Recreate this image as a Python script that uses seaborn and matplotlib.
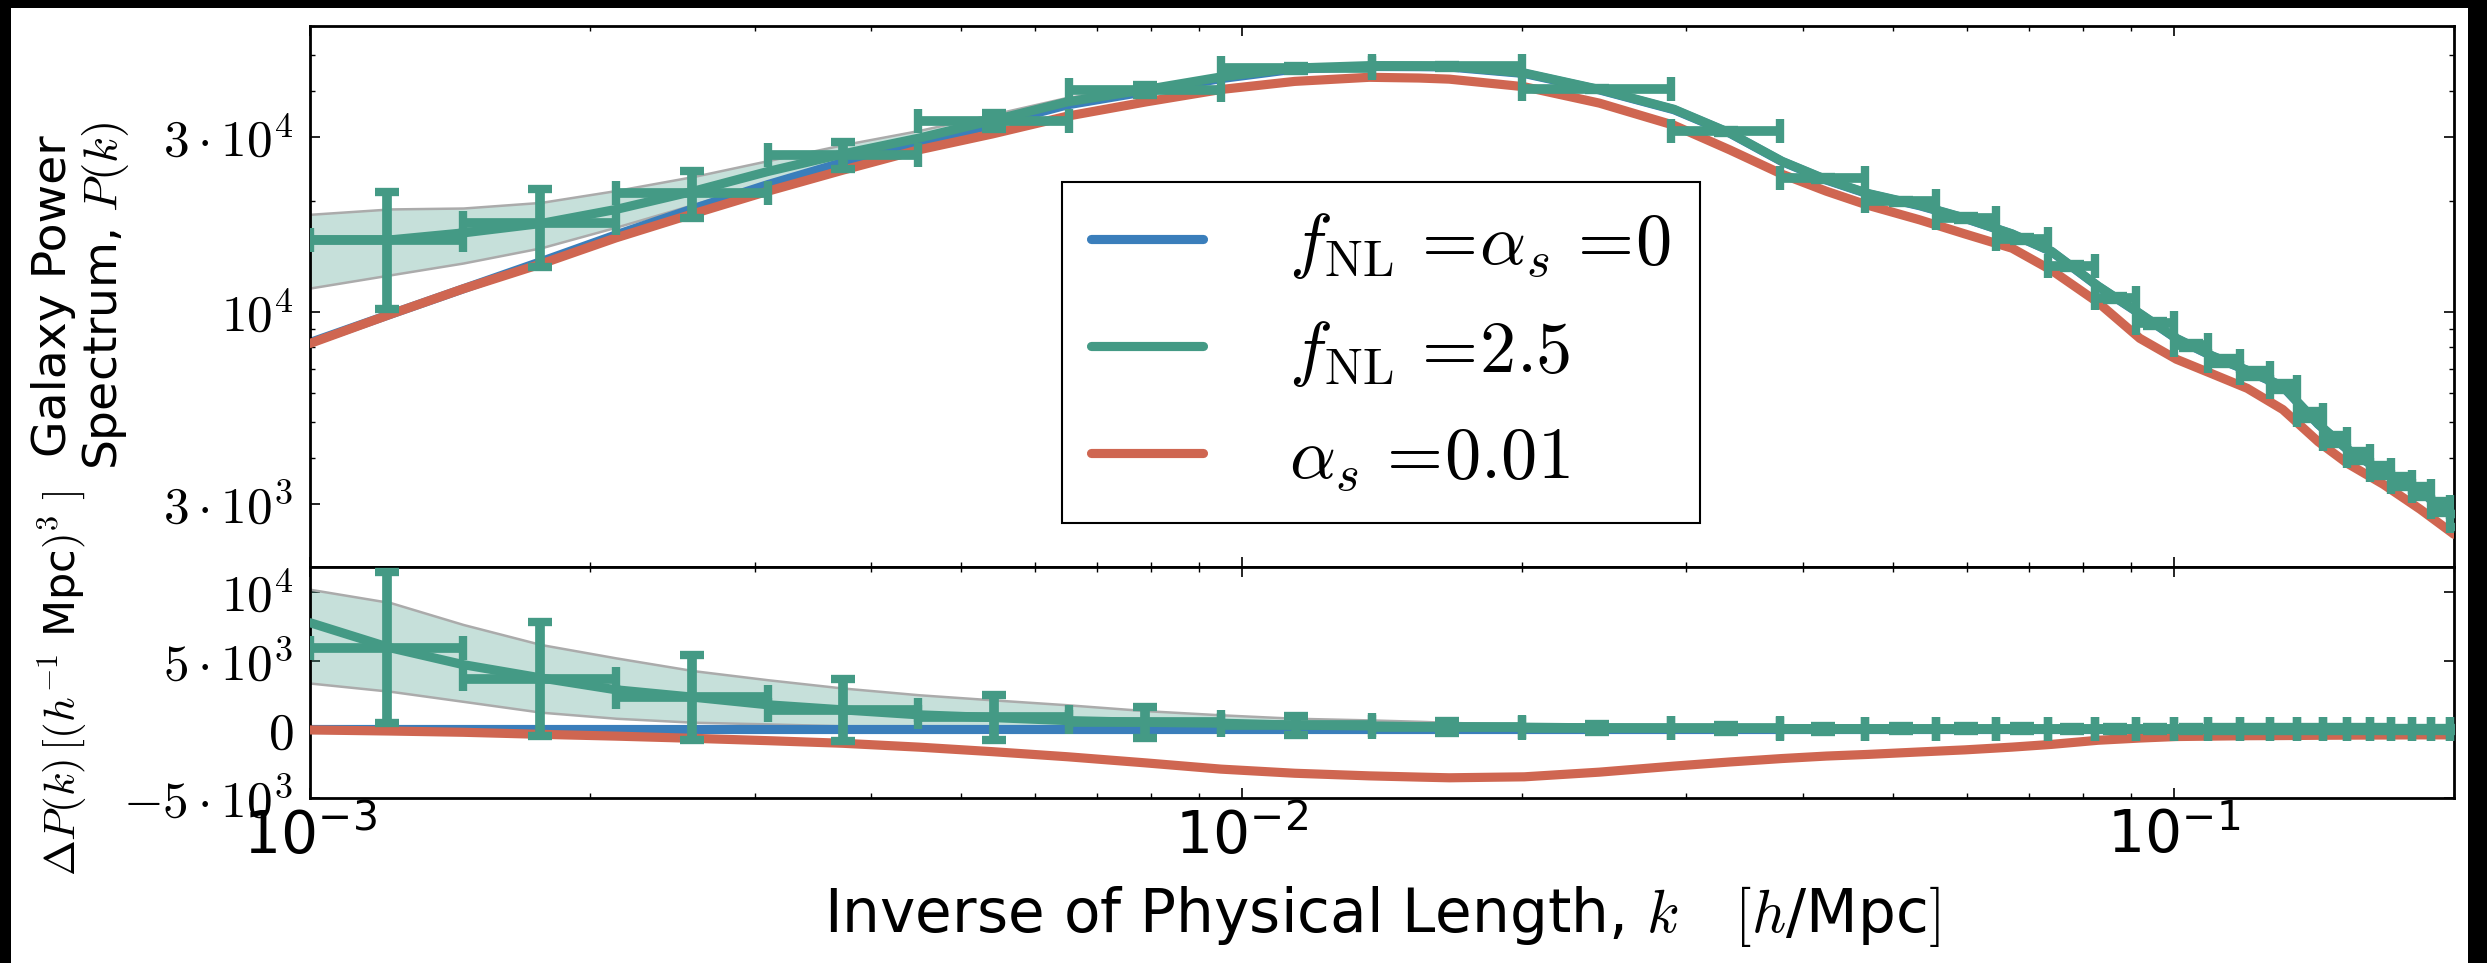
import numpy as np
import matplotlib
matplotlib.use("Agg")
import matplotlib.pyplot as plt
import seaborn as sns
from matplotlib.colors import to_rgba
from matplotlib.lines import Line2D
from matplotlib.patches import Rectangle
from matplotlib.ticker import LogLocator, NullFormatter

# wavenumber grid of the model curves [h/Mpc]
k_model = [0.001, 0.00122, 0.00146, 0.00177, 0.00213, 0.00258, 0.0031, 0.00373,
           0.0045, 0.0054, 0.0065, 0.0079, 0.0095, 0.0114, 0.0137, 0.0155, 0.0167,
           0.0201, 0.0242, 0.0291, 0.0334, 0.038, 0.0424, 0.047, 0.0534, 0.0597,
           0.0671, 0.074, 0.083, 0.092, 0.1007, 0.110, 0.120, 0.131, 0.143, 0.1536,
           0.168, 0.184, 0.2]

# galaxy power spectrum P(k), top panel
p_base = [8250, 9850, 11550, 13700, 16200, 19100, 22200, 25500, 28650, 32350,
          36600, 39800, 43150, 45800, 46550, 46500, 46400, 44550, 40200, 35500,
          30650, 25650, 22850, 20950, 19450, 17970, 16280, 14580, 11730, 9880,
          8455, 7578, 6920, 6260, 4942, 4224, 3655, 3246, 2766]
p_fnl = [15700, 15700, 16400, 17400, 19000, 21300, 24100, 26900, 29700, 33200,
         37300, 40300, 43600, 46100, 46800, 46700, 46600, 44700, 40300, 35600,
         30700, 25700, 22900, 21000, 19500, 18000, 16300, 14600, 11750, 9900,
         8470, 7590, 6930, 6270, 4950, 4230, 3660, 3250, 2770]
p_alpha = [8200, 9850, 11550, 13500, 15900, 18500, 21300, 24300, 27600, 30500,
           34100, 37300, 40300, 42400, 43500, 43300, 43000, 41000, 37000, 32200,
           27600, 23700, 21300, 19500, 17800, 16300, 14900, 12970, 10600, 8470,
           7430, 6780, 6190, 5420, 4430, 3870, 3390, 2900, 2480]

# difference to the baseline, bottom panel
dp_base = [0] * len(k_model)
dp_fnl = [7750, 5920, 4700, 3730, 2870, 2330, 1780, 1410, 1050, 850, 630, 500,
          440, 300, 240, 190, 160, 150, 100, 70, 60, 50, 45, 40, 35, 30, 28, 25,
          22, 20, 18, 16, 15, 14, 13, 12, 11, 10, 10]
dp_alpha = [-50, -130, -220, -370, -500, -660, -830, -1020, -1300, -1630, -2000,
            -2450, -2900, -3200, -3390, -3480, -3530, -3460, -3120, -2680, -2380,
            -2130, -1950, -1830, -1650, -1500, -1300, -1100, -800, -640, -530,
            -500, -470, -460, -440, -430, -420, -410, -410]

# shaded f_NL uncertainty band (as Delta P), first part of the grid
band_hi = [10180, 9210, 7620, 6160, 5190, 4260, 3600, 3000, 2510, 2140, 1780,
           1350, 1050, 800, 680, 580, 500, 350]
band_lo = [3360, 2760, 2030, 1240, 800, 510, 390, 250, 190, 150, 120, 100, 90,
           80, 70, 60, 60, 50]

# binned mock measurements
k_edges = [0.00100, 0.00146, 0.00213, 0.00310, 0.00449, 0.00653, 0.00950, 0.01378,
           0.0200, 0.0289, 0.0378, 0.0467, 0.0556, 0.0645, 0.0734, 0.0823, 0.0912,
           0.1001, 0.1090, 0.1179, 0.1268, 0.1357, 0.1446, 0.1535, 0.1624, 0.1713,
           0.1802, 0.1891, 0.1980, 0.2069]
p_points = [15700, 17400, 21100, 26800, 33100, 40200, 46000, 46600, 40500, 31000,
            23100, 20000, 18000, 15800, 13300, 10900, 9300, 8100, 7350, 6800, 6250,
            5250, 4500, 4050, 3700, 3450, 3250, 2950, 2700]
dp_points = [5920, 3680, 2330, 1420, 860, 500, 300, 170, 100, 60, 45, 35, 30, 28,
             25, 22, 20, 18, 16, 15, 14, 13, 12, 11, 10, 10, 10, 10, 10]
p_err = [5500, 4150, 3100, 2250, 1620, 1150, 700, 420, 300, 240, 210, 195, 185,
         175, 165, 160, 155, 150, 145, 140, 135, 130, 125, 120, 118, 115, 112, 110, 108]

labels = [r"$f_{\rm NL}\,=\!\alpha_s\,=\!0$", r"$f_{\rm NL}\,=\!2.5$",
          r"$\alpha_s\,=\!0.01$"]

BLUE = "#3a7ebb"
GREEN = "#449a85"
RED = "#cf6651"
GREY = "#ababab"
LW = 6.6

sns.set_style("ticks")
plt.rcParams["font.family"] = ["DejaVu Sans"]
plt.rcParams["mathtext.fontset"] = "cm"
plt.rcParams["axes.linewidth"] = 2.0
for key in ("text.color", "axes.labelcolor", "xtick.color", "ytick.color", "axes.edgecolor"):
    plt.rcParams[key] = "black"

W, H = 2487, 963
fig = plt.figure(figsize=(W / 100, H / 100), dpi=100, facecolor="black")
fig.patches.append(Rectangle((11 / W, 0), (2468 - 11) / W, (H - 8) / H,
                             transform=fig.transFigure, facecolor="white",
                             edgecolor="none", zorder=-1))
ax_top = fig.add_axes([310 / W, 1 - 567 / H, 2144 / W, 541 / H])
ax_bot = fig.add_axes([310 / W, 1 - 798 / H, 2144 / W, 231 / H], sharex=ax_top)

edges = np.array(k_edges)
centers = np.sqrt(edges[:-1] * edges[1:])
xerr = [centers - edges[:-1], edges[1:] - centers]
k_band = k_model[:len(band_hi)]
base_band = np.array(p_base[:len(band_hi)])
fill_col = to_rgba(GREEN, 0.3)
err_kw = dict(fmt="none", ecolor=GREEN, elinewidth=7, capsize=8.8, capthick=6, zorder=5)

# top panel: power spectra
ax_top.fill_between(k_band, base_band + np.array(band_lo), base_band + np.array(band_hi),
                    facecolor=fill_col, edgecolor=GREY, linewidth=1.8, zorder=1)
sns.lineplot(x=k_model, y=p_base, ax=ax_top, color=BLUE, linewidth=LW, zorder=2)
sns.lineplot(x=k_model, y=p_alpha, ax=ax_top, color=RED, linewidth=LW, zorder=3)
sns.lineplot(x=k_model, y=p_fnl, ax=ax_top, color=GREEN, linewidth=LW, zorder=4)
ax_top.errorbar(centers, p_points, xerr=xerr, yerr=p_err, **err_kw)

# bottom panel: differences
ax_bot.fill_between(k_band, band_lo, band_hi, facecolor=fill_col, edgecolor=GREY,
                    linewidth=1.8, zorder=1)
sns.lineplot(x=k_model, y=dp_base, ax=ax_bot, color=BLUE, linewidth=LW, zorder=2)
sns.lineplot(x=k_model, y=dp_alpha, ax=ax_bot, color=RED, linewidth=LW, zorder=3)
sns.lineplot(x=k_model, y=dp_fnl, ax=ax_bot, color=GREEN, linewidth=LW, zorder=4)
ax_bot.errorbar(centers, dp_points, xerr=xerr, yerr=p_err, **err_kw)

ax_top.set_xscale("log")
ax_top.set_yscale("log")
ax_top.set_xlim(1e-3, 0.2)
ax_top.set_ylim(2020, 60000)
ax_top.set_yticks([3e3, 1e4, 3e4])
ax_top.set_yticklabels([r"$3\cdot10^3$", r"$10^4$", r"$3\cdot10^4$"])
ax_top.yaxis.set_minor_locator(LogLocator(base=10, subs=np.arange(2, 10)))
ax_top.yaxis.set_minor_formatter(NullFormatter())

ax_bot.set_ylim(-5000, 11800)
ax_bot.set_yticks([-5000, 0, 5000, 10000])
ax_bot.set_yticklabels([r"$-5\cdot10^3$", r"$0$", r"$5\cdot10^3$", r"$10^4$"])
ax_bot.set_xticks([1e-3, 1e-2, 1e-1])
ax_bot.set_xticklabels([r"$\mathregular{10^{-3}}$", r"$\mathregular{10^{-2}}$",
                        r"$\mathregular{10^{-1}}$"])
ax_bot.xaxis.set_minor_locator(LogLocator(base=10, subs=np.arange(2, 10)))
ax_bot.xaxis.set_minor_formatter(NullFormatter())

for ax in (ax_top, ax_bot):
    ax.tick_params(which="both", direction="in", top=True, right=True, color="black")
    ax.tick_params(which="major", length=7, width=1.2)
    ax.tick_params(which="minor", length=3.5, width=1.0)
    ax.tick_params(axis="y", which="major", labelsize=37, pad=12)
    for sp in ax.spines.values():
        sp.set_visible(True)
        sp.set_linewidth(2.0)
        sp.set_color("black")
ax_top.tick_params(axis="x", labelbottom=False)
ax_bot.tick_params(axis="x", which="major", labelsize=42, pad=7)

ax_top.set_ylabel("Galaxy Power\nSpectrum, $P(k)$", fontsize=34, va="center", linespacing=1.1)
ax_top.yaxis.set_label_coords(-0.1068, 0.5)
ax_bot.set_ylabel(r"$\Delta P(k)\,[(h^{-1}$ Mpc$)^3\ ]$", fontsize=31, va="center")
ax_bot.yaxis.set_label_coords(-0.1152, 0.494)
ax_bot.set_xlabel(r"Inverse of Physical Length, $k$   $[h$/Mpc$]$", fontsize=43, va="center")
ax_bot.xaxis.set_label_coords(0.5, -0.515)

handles = [Line2D([], [], color=c, linewidth=LW) for c in (BLUE, GREEN, RED)]
leg = ax_top.legend(handles, labels, loc="center", bbox_to_anchor=(0.4995, 0.397),
                    fontsize=52, frameon=True, fancybox=False, framealpha=1,
                    edgecolor="black", handlelength=1.55, handletextpad=1.2,
                    labelspacing=0.5, borderpad=0.4)
leg.get_frame().set_linewidth(1.5)

fig.savefig("out.png", dpi=100, facecolor=fig.get_facecolor())
